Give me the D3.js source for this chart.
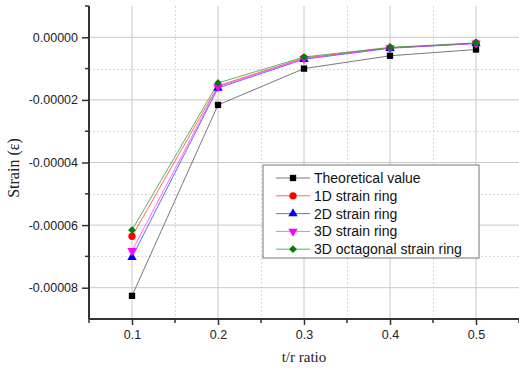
<!DOCTYPE html>
<html>
<head>
<meta charset="utf-8">
<script src="https://cdn.jsdelivr.net/npm/d3@7"></script>
<style>
  body { margin: 0; background: #fff; }
  svg { display: block; }
</style>
</head>
<body>
<div id="chart"></div>
<script>
// t/r ratio values
var ratios = [0.1, 0.2, 0.3, 0.4, 0.5];

// strain values
var theoretical = [-8.26e-5, -2.16e-5, -1.00e-5, -0.59e-5, -0.39e-5];
var ring1d      = [-6.36e-5, -1.55e-5, -0.66e-5, -0.34e-5, -0.19e-5];
var ring2d      = [-7.03e-5, -1.62e-5, -0.70e-5, -0.35e-5, -0.20e-5];
var ring3d      = [-6.82e-5, -1.58e-5, -0.68e-5, -0.34e-5, -0.19e-5];
var ring3dOct   = [-6.16e-5, -1.46e-5, -0.63e-5, -0.32e-5, -0.18e-5];

var seriesNames = ["Theoretical value", "1D strain ring", "2D strain ring", "3D strain ring", "3D octagonal strain ring"];
var xTicks = [0.1, 0.2, 0.3, 0.4, 0.5];
var yTicks = [0, -2e-5, -4e-5, -6e-5, -8e-5];

var width = 519, height = 368;
var plotLeft = 89, plotRight = 519, plotTop = 6, plotBottom = 319;

var series = [
    { name: seriesNames[0], values: theoretical, color: "#000000", line: "#555555", symbol: d3.symbolSquare, size: 40, rot: 0 },
    { name: seriesNames[1], values: ring1d, color: "#ff0000", line: "#ff4040", symbol: d3.symbolCircle, size: 42, rot: 0 },
    { name: seriesNames[2], values: ring2d, color: "#0000ff", line: "#4040ff", symbol: d3.symbolTriangle, size: 38, rot: 0 },
    { name: seriesNames[3], values: ring3d, color: "#ff00ff", line: "#ff40ff", symbol: d3.symbolTriangle, size: 38, rot: 180 },
    { name: seriesNames[4], values: ring3dOct, color: "#008000", line: "#30a030", symbol: d3.symbolSquare, size: 30, rot: 45 }
];

var svg = d3.select("#chart")
    .append("svg")
    .attr("width", width)
    .attr("height", height);

var x = d3.scaleLinear().domain([0.05, 0.55]).range([plotLeft, plotRight]);
var y = d3.scaleLinear().domain([-9e-5, 1e-5]).range([plotBottom, plotTop]);

// grid lines: solid at major ticks, dotted at minor ticks
var grid = svg.append("g");
var xMinor = [0.15, 0.25, 0.35, 0.45];
var yMinor = [-1e-5, -3e-5, -5e-5, -7e-5];

grid.selectAll(".vmaj").data(xTicks).join("line")
    .attr("class", "vmaj")
    .attr("x1", d => x(d)).attr("x2", d => x(d))
    .attr("y1", plotTop).attr("y2", plotBottom)
    .attr("stroke", "#c8c8c8").attr("stroke-width", 1);
grid.selectAll(".vmin").data(xMinor).join("line")
    .attr("class", "vmin")
    .attr("x1", d => Math.round(x(d)) + 0.5).attr("x2", d => Math.round(x(d)) + 0.5)
    .attr("y1", plotTop).attr("y2", plotBottom)
    .attr("stroke", "#d8d8d8").attr("stroke-dasharray", "2,2");
grid.selectAll(".hmaj").data(yTicks).join("line")
    .attr("class", "hmaj")
    .attr("x1", plotLeft).attr("x2", plotRight)
    .attr("y1", d => y(d)).attr("y2", d => y(d))
    .attr("stroke", "#c8c8c8").attr("stroke-width", 1);
grid.selectAll(".hmin").data(yMinor).join("line")
    .attr("class", "hmin")
    .attr("x1", plotLeft).attr("x2", plotRight)
    .attr("y1", d => Math.round(y(d)) + 0.5).attr("y2", d => Math.round(y(d)) + 0.5)
    .attr("stroke", "#d8d8d8").attr("stroke-dasharray", "2,2");

// axes
var xAxis = d3.axisBottom(x).tickValues(xTicks).tickSize(6).tickPadding(5)
    .tickFormat(d3.format(".1f"));
var yAxis = d3.axisLeft(y).tickValues(yTicks).tickSize(7).tickPadding(4)
    .tickFormat(d => d3.format(".5f")(d).replace("−", "-"));

var gx = svg.append("g").attr("transform", "translate(0," + plotBottom + ")").call(xAxis);
var gy = svg.append("g").attr("transform", "translate(" + plotLeft + ",0)").call(yAxis);

[gx, gy].forEach(function (g) {
    g.select(".domain").attr("stroke", "#333").attr("stroke-width", 2);
    g.selectAll(".tick line").attr("stroke", "#333").attr("stroke-width", 1.5);
    g.selectAll(".tick text")
        .attr("font-family", "Liberation Sans, Arial, sans-serif")
        .attr("font-size", "12.5px")
        .attr("fill", "#222");
});
gx.select(".domain").attr("d", "M" + plotLeft + ",0H" + plotRight);
gy.select(".domain").attr("d", "M0," + plotTop + "V" + plotBottom);

// minor ticks
svg.append("g").selectAll("line").data([0.05].concat(xMinor, [0.55])).join("line")
    .attr("x1", d => x(d)).attr("x2", d => x(d))
    .attr("y1", plotBottom).attr("y2", plotBottom + 4)
    .attr("stroke", "#333").attr("stroke-width", 1.5);
svg.append("g").selectAll("line").data(yMinor.concat([1e-5])).join("line")
    .attr("x1", plotLeft - 4).attr("x2", plotLeft)
    .attr("y1", d => y(d)).attr("y2", d => y(d))
    .attr("stroke", "#333").attr("stroke-width", 1.5);

// axis titles
svg.append("text")
    .attr("x", (plotLeft + plotRight) / 2).attr("y", 362)
    .attr("text-anchor", "middle")
    .attr("font-family", "Liberation Serif, Times New Roman, serif")
    .attr("font-size", "15px")
    .attr("fill", "#222")
    .text("t/r ratio");
svg.append("text")
    .attr("transform", "translate(19,168) rotate(-90)")
    .attr("text-anchor", "middle")
    .attr("font-family", "Liberation Serif, Times New Roman, serif")
    .attr("font-size", "16px")
    .attr("fill", "#222")
    .text("Strain (ε)");

// series lines and markers
var line = d3.line().x((d, i) => x(ratios[i])).y(d => y(d));
var plot = svg.append("g");
series.forEach(function (s) {
    plot.append("path")
        .datum(s.values)
        .attr("d", line)
        .attr("fill", "none")
        .attr("stroke", s.line)
        .attr("stroke-width", 0.8);
});
series.forEach(function (s) {
    plot.selectAll(null).data(s.values).join("path")
        .attr("transform", (d, i) => "translate(" + x(ratios[i]) + "," + y(d) + ") rotate(" + s.rot + ")")
        .attr("d", d3.symbol().type(s.symbol).size(s.size))
        .attr("fill", s.color);
});

// legend
var lg = svg.append("g").attr("transform", "translate(263,165)");
lg.append("rect")
    .attr("width", 216).attr("height", 93)
    .attr("fill", "#fff").attr("stroke", "#777").attr("stroke-width", 1);
var rows = lg.selectAll("g").data(series).join("g")
    .attr("transform", (d, i) => "translate(0," + (13 + i * 17.8) + ")");
rows.append("line")
    .attr("x1", 13).attr("x2", 47)
    .attr("stroke", d => d.line).attr("stroke-width", 0.8);
rows.append("path")
    .attr("transform", d => "translate(30,0) rotate(" + d.rot + ")")
    .attr("d", d => d3.symbol().type(d.symbol).size(d.size)())
    .attr("fill", d => d.color);
rows.append("text")
    .attr("x", 51).attr("dy", "0.35em")
    .attr("font-family", "Liberation Sans, Arial, sans-serif")
    .attr("font-size", "14px")
    .attr("fill", "#111")
    .text(d => d.name);
</script>
</body>
</html>
